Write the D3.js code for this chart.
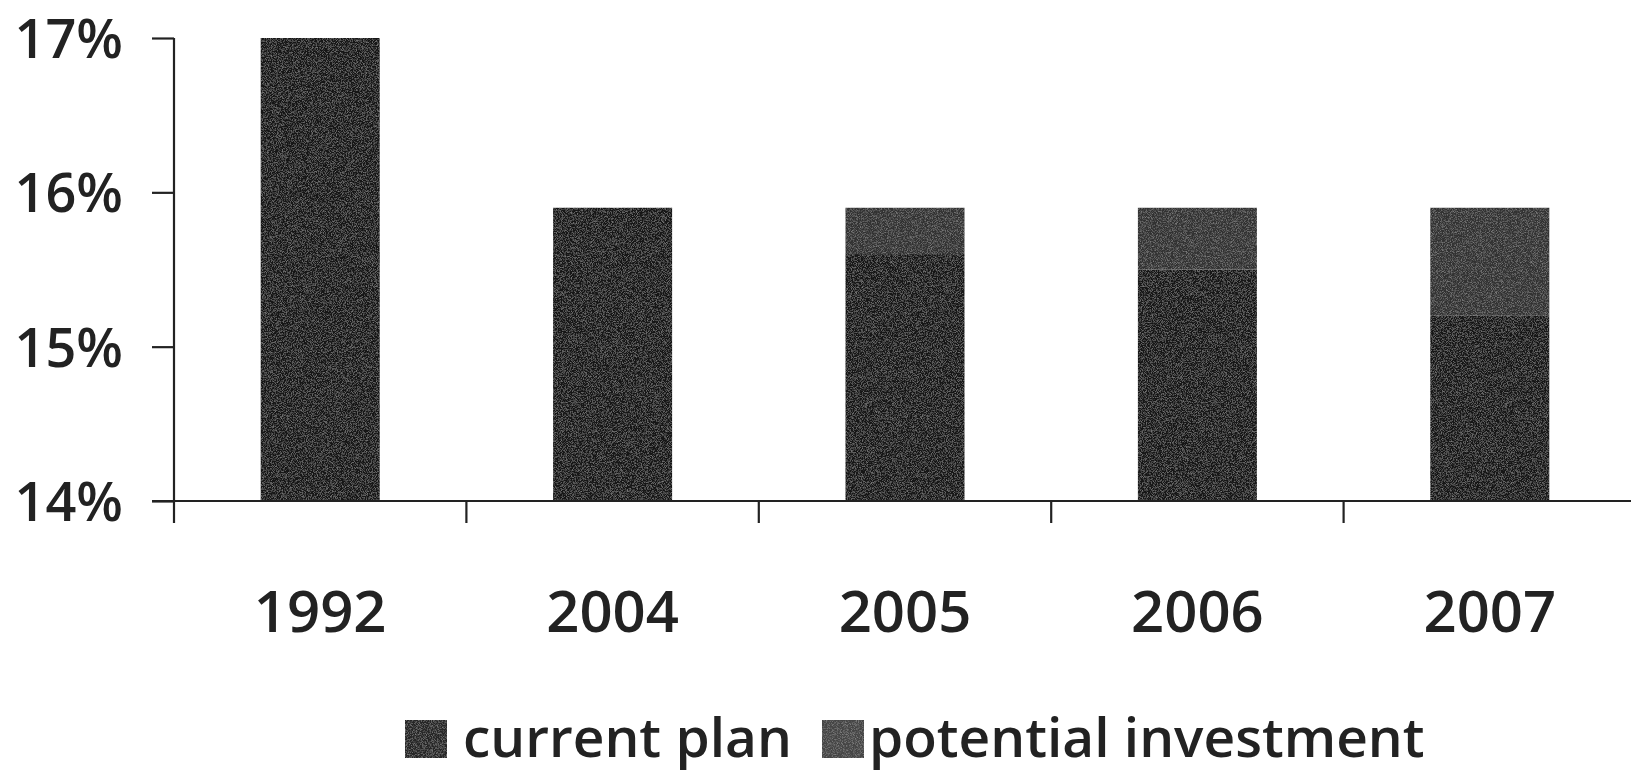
<!DOCTYPE html>
<html>
<head>
<meta charset="utf-8">
<script src="https://cdn.jsdelivr.net/npm/d3@7"></script>
<style>
  html, body { margin: 0; padding: 0; background: #fff; }
  svg { display: block; }
  text { font-family: "Open Sans", "DejaVu Sans", sans-serif; fill: #222; font-weight: 600; }
</style>
</head>
<body>
<svg id="chart" width="1631" height="775"></svg>
<script>
// Share of spending by year (percent)
const years = ["1992", "2004", "2005", "2006", "2007"];
const currentPlan = [17.0, 15.9, 15.6, 15.5, 15.2];
const potentialInvestment = [0, 0, 0.3, 0.4, 0.7];
const yTicks = [14, 15, 16, 17];
const seriesNames = ["current plan", "potential investment"];
const seriesColors = ["#141414", "#313131"];
const legendSwatchColors = ["#262626", "#444444"];

const svg = d3.select("#chart");

const x = d3.scaleBand()
  .domain(years)
  .range([174, 1636])
  .paddingInner(0.593)
  .paddingOuter(0.2965);

const y = d3.scaleLinear().domain([14, 17]).range([501, 38]);

// fine grain texture for the bars
const defs = svg.append("defs");
const grain = defs.append("filter").attr("id", "grain")
  .attr("x", 0).attr("y", 0).attr("width", 1).attr("height", 1);
grain.append("feTurbulence").attr("type", "fractalNoise")
  .attr("baseFrequency", 1.2).attr("numOctaves", 2).attr("seed", 3).attr("result", "noise");
grain.append("feColorMatrix").attr("in", "noise").attr("type", "matrix")
  .attr("values", "0 0 0 0 1  0 0 0 0 1  0 0 0 0 1  0 0 0 0.45 -0.2").attr("result", "speck");
grain.append("feComposite").attr("in", "speck").attr("in2", "SourceGraphic").attr("operator", "in").attr("result", "specks");
grain.append("feComposite").attr("in", "specks").attr("in2", "SourceGraphic").attr("operator", "over");

const rows = years.map((yr, i) => ({ year: yr, cur: currentPlan[i] - 14, pot: potentialInvestment[i] }));
const layers = d3.stack().keys(["cur", "pot"])(rows);

svg.append("g").selectAll("g")
  .data(layers)
  .join("g")
  .attr("fill", (d, i) => seriesColors[i])
  .attr("filter", "url(#grain)")
  .selectAll("rect")
  .data(d => d.filter(p => p[1] > p[0]))
  .join("rect")
  .attr("x", d => x(d.data.year))
  .attr("width", x.bandwidth())
  .attr("y", d => y(14 + d[1]))
  .attr("height", d => y(14 + d[0]) - y(14 + d[1]));

// y axis
const yAxis = d3.axisLeft(y).tickValues(yTicks).tickFormat(d => d + "%").tickSize(22).tickPadding(29);
const gy = svg.append("g").attr("transform", "translate(174,0)").call(yAxis);
gy.select(".domain").attr("stroke", "#222").attr("stroke-width", 2.2).attr("d", "M0,38V501");
gy.selectAll(".tick line").attr("stroke", "#222").attr("stroke-width", 2.2);
gy.selectAll(".tick text").style("font-size", "54px").attr("fill", "#222").attr("dy", "0.36em");

// x axis with ticks at category boundaries
const gx = svg.append("g").attr("transform", "translate(0,501)");
gx.append("line").attr("x1", 152).attr("x2", 1631).attr("y1", 0).attr("y2", 0)
  .attr("stroke", "#222").attr("stroke-width", 2.2);
const bounds = years.map(yr => x(yr) - x.step() * x.paddingInner() / 2);
gx.selectAll("line.b").data(bounds).join("line").attr("class", "b")
  .attr("x1", d => d).attr("x2", d => d).attr("y1", 0).attr("y2", 22)
  .attr("stroke", "#222").attr("stroke-width", 2.2);
gx.selectAll("text").data(years).join("text")
  .attr("x", d => x(d) + x.bandwidth() / 2)
  .attr("y", 131)
  .attr("text-anchor", "middle")
  .style("font-size", "58px")
  .text(d => d);

// legend
const legend = svg.append("g").attr("transform", "translate(0,757)");
const legendItems = [
  { name: seriesNames[0], color: legendSwatchColors[0], sx: 405, tx: 463 },
  { name: seriesNames[1], color: legendSwatchColors[1], sx: 822, tx: 869 }
];
legendItems.forEach(it => {
  legend.append("rect").attr("x", it.sx).attr("y", -37).attr("width", 42).attr("height", 38)
    .attr("fill", it.color).attr("filter", "url(#grain)");
  legend.append("text").attr("x", it.tx).attr("y", 0).style("font-size", "55px").text(it.name);
});
</script>
</body>
</html>
